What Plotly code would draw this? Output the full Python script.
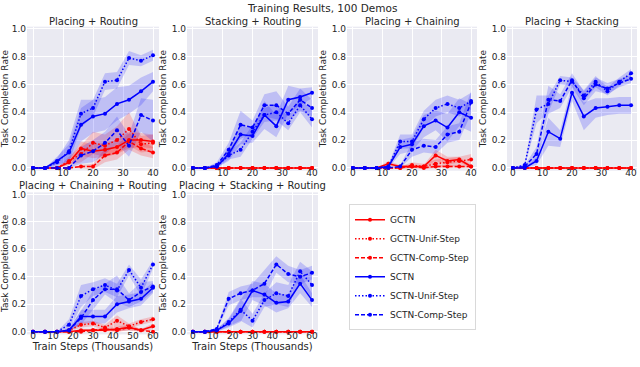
import plotly.graph_objects as go

# x values (thousands of train steps)
steps_40 = [0, 4, 8, 12, 16, 20, 24, 28, 32, 36, 40]
steps_60 = [0, 6, 12, 18, 24, 30, 36, 42, 48, 54, 60]

series = ['GCTN', 'GCTN-Unif-Step', 'GCTN-Comp-Step',
          'SCTN', 'SCTN-Unif-Step', 'SCTN-Comp-Step']

panel_titles = ['Placing + Routing', 'Stacking + Routing',
                'Placing + Chaining', 'Placing + Stacking',
                'Placing + Chaining + Routing',
                'Placing + Stacking + Routing']

# mean completion rate per panel
place_route = {
    'GCTN': [0, 0, 0, 0.04, 0.14, 0.12, 0.13, 0.15, 0.20, 0.20, 0.19],
    'GCTN-Unif-Step': [0, 0, 0, 0.05, 0.10, 0.18, 0.16, 0.20, 0.28, 0.17, 0.18],
    'GCTN-Comp-Step': [0, 0, 0, 0, 0.01, 0.01, 0.09, 0.11, 0.19, 0.14, 0.11],
    'SCTN': [0, 0, 0.05, 0.11, 0.31, 0.37, 0.39, 0.46, 0.49, 0.55, 0.62],
    'SCTN-Unif-Step': [0, 0, 0.04, 0.12, 0.39, 0.43, 0.62, 0.63, 0.79, 0.77, 0.81],
    'SCTN-Comp-Step': [0, 0, 0, 0, 0.09, 0.12, 0.18, 0.27, 0.16, 0.38, 0.34],
}
place_route_sd = {
    'GCTN': [0, 0, 0, 0.02, 0.05, 0.05, 0.05, 0.05, 0.06, 0.05, 0.05],
    'GCTN-Unif-Step': [0, 0, 0, 0.03, 0.06, 0.08, 0.08, 0.10, 0.12, 0.06, 0.06],
    'GCTN-Comp-Step': [0, 0, 0, 0, 0.01, 0.02, 0.05, 0.05, 0.06, 0.05, 0.04],
    'SCTN': [0, 0, 0.03, 0.06, 0.12, 0.12, 0.12, 0.12, 0.10, 0.10, 0.07],
    'SCTN-Unif-Step': [0, 0, 0.03, 0.08, 0.10, 0.06, 0.06, 0.06, 0.05, 0.04, 0.04],
    'SCTN-Comp-Step': [0, 0, 0, 0, 0.06, 0.08, 0.08, 0.10, 0.08, 0.12, 0.15],
}

stack_route = {
    'GCTN': [0, 0, 0, 0, 0, 0, 0, 0, 0, 0, 0],
    'GCTN-Unif-Step': [0, 0, 0, 0, 0, 0, 0, 0, 0, 0, 0],
    'GCTN-Comp-Step': [0, 0, 0, 0, 0, 0, 0, 0, 0, 0, 0],
    'SCTN': [0, 0, 0.01, 0.10, 0.24, 0.23, 0.38, 0.30, 0.49, 0.51, 0.54],
    'SCTN-Unif-Step': [0, 0, 0.01, 0.09, 0.13, 0.26, 0.38, 0.40, 0.32, 0.45, 0.35],
    'SCTN-Comp-Step': [0, 0, 0.02, 0.13, 0.31, 0.29, 0.45, 0.45, 0.39, 0.49, 0.43],
}
stack_route_sd = {
    'GCTN': [0, 0, 0, 0, 0, 0, 0, 0, 0, 0, 0],
    'GCTN-Unif-Step': [0, 0, 0, 0, 0, 0, 0, 0, 0, 0, 0],
    'GCTN-Comp-Step': [0, 0, 0, 0, 0, 0, 0, 0, 0, 0, 0],
    'SCTN': [0, 0, 0.01, 0.05, 0.07, 0.05, 0.10, 0.08, 0.10, 0.06, 0.04],
    'SCTN-Unif-Step': [0, 0, 0.01, 0.03, 0.05, 0.05, 0.05, 0.06, 0.05, 0.05, 0.06],
    'SCTN-Comp-Step': [0, 0, 0.02, 0.05, 0.10, 0.05, 0.08, 0.10, 0.05, 0.08, 0.06],
}

place_chain = {
    'GCTN': [0, 0, 0, 0.03, 0.01, 0.01, 0.01, 0.09, 0.05, 0.06, 0.01],
    'GCTN-Unif-Step': [0, 0, 0, 0, 0, 0.02, 0.01, 0.03, 0.04, 0.05, 0.06],
    'GCTN-Comp-Step': [0, 0, 0, 0, 0, 0.01, 0, 0.01, 0.01, 0.01, 0.01],
    'SCTN': [0, 0, 0, 0.01, 0.15, 0.17, 0.30, 0.34, 0.29, 0.40, 0.36],
    'SCTN-Unif-Step': [0, 0, 0, 0.01, 0.19, 0.19, 0.35, 0.43, 0.46, 0.43, 0.48],
    'SCTN-Comp-Step': [0, 0, 0, 0, 0.01, 0.13, 0.16, 0.15, 0.24, 0.26, 0.47],
}
place_chain_sd = {
    'GCTN': [0, 0, 0, 0.02, 0.01, 0.01, 0.01, 0.04, 0.03, 0.02, 0.01],
    'GCTN-Unif-Step': [0, 0, 0, 0, 0.01, 0.02, 0.02, 0.03, 0.03, 0.03, 0.04],
    'GCTN-Comp-Step': [0, 0, 0, 0, 0, 0.01, 0, 0.01, 0.01, 0.01, 0.01],
    'SCTN': [0, 0, 0, 0.01, 0.05, 0.05, 0.08, 0.07, 0.10, 0.10, 0.10],
    'SCTN-Unif-Step': [0, 0, 0, 0.01, 0.05, 0.05, 0.06, 0.06, 0.06, 0.06, 0.06],
    'SCTN-Comp-Step': [0, 0, 0, 0, 0.01, 0.05, 0.05, 0.05, 0.06, 0.06, 0.08],
}

place_stack = {
    'GCTN': [0, 0, 0, 0, 0, 0, 0, 0, 0, 0, 0],
    'GCTN-Unif-Step': [0, 0, 0, 0, 0, 0, 0, 0, 0, 0, 0],
    'GCTN-Comp-Step': [0, 0, 0, 0, 0, 0, 0, 0, 0, 0, 0],
    'SCTN': [0, 0, 0.05, 0.26, 0.21, 0.54, 0.37, 0.43, 0.44, 0.45, 0.45],
    'SCTN-Unif-Step': [0, 0.02, 0.42, 0.46, 0.63, 0.62, 0.52, 0.62, 0.55, 0.62, 0.68],
    'SCTN-Comp-Step': [0, 0.01, 0.10, 0.49, 0.48, 0.63, 0.50, 0.60, 0.57, 0.61, 0.64],
}
place_stack_sd = {
    'GCTN': [0, 0, 0, 0, 0, 0, 0, 0, 0, 0, 0],
    'GCTN-Unif-Step': [0, 0, 0, 0, 0, 0, 0, 0, 0, 0, 0],
    'GCTN-Comp-Step': [0, 0, 0, 0, 0, 0, 0, 0, 0, 0, 0],
    'SCTN': [0, 0, 0.03, 0.10, 0.06, 0.06, 0.10, 0.07, 0.06, 0.06, 0.06],
    'SCTN-Unif-Step': [0, 0.01, 0.10, 0.06, 0.03, 0.03, 0.04, 0.04, 0.03, 0.03, 0.03],
    'SCTN-Comp-Step': [0, 0.01, 0.05, 0.10, 0.05, 0.05, 0.05, 0.05, 0.04, 0.03, 0.03],
}

place_chain_route = {
    'GCTN': [0, 0, 0, 0, 0.01, 0.01, 0.01, 0.02, 0.03, 0.01, 0.04],
    'GCTN-Unif-Step': [0, 0, 0, 0.01, 0.05, 0.06, 0.03, 0.08, 0.04, 0.07, 0.09],
    'GCTN-Comp-Step': [0, 0, 0, 0, 0, 0.01, 0.02, 0.01, 0.03, 0.01, 0],
    'SCTN': [0, 0, 0, 0.01, 0.11, 0.11, 0.11, 0.20, 0.22, 0.24, 0.32],
    'SCTN-Unif-Step': [0, 0, 0, 0.05, 0.26, 0.31, 0.34, 0.30, 0.45, 0.32, 0.49],
    'SCTN-Comp-Step': [0, 0, 0, 0.01, 0.10, 0.23, 0.31, 0.31, 0.23, 0.29, 0.33],
}
place_chain_route_sd = {
    'GCTN': [0, 0, 0, 0, 0.01, 0.01, 0.01, 0.02, 0.02, 0.01, 0.02],
    'GCTN-Unif-Step': [0, 0, 0, 0.01, 0.02, 0.02, 0.02, 0.04, 0.02, 0.02, 0.02],
    'GCTN-Comp-Step': [0, 0, 0, 0, 0, 0.01, 0.01, 0.01, 0.02, 0.01, 0],
    'SCTN': [0, 0, 0, 0.01, 0.05, 0.05, 0.05, 0.06, 0.05, 0.05, 0.04],
    'SCTN-Unif-Step': [0, 0, 0, 0.04, 0.08, 0.05, 0.05, 0.05, 0.04, 0.06, 0.03],
    'SCTN-Comp-Step': [0, 0, 0, 0.01, 0.05, 0.07, 0.04, 0.10, 0.05, 0.07, 0.04],
}

place_stack_route = {
    'GCTN': [0, 0, 0, 0, 0, 0, 0, 0, 0, 0, 0],
    'GCTN-Unif-Step': [0, 0, 0, 0, 0, 0, 0, 0, 0, 0, 0],
    'GCTN-Comp-Step': [0, 0, 0, 0, 0, 0, 0, 0, 0, 0, 0],
    'SCTN': [0, 0, 0.01, 0.06, 0.15, 0.30, 0.27, 0.21, 0.22, 0.35, 0.23],
    'SCTN-Unif-Step': [0, 0, 0.01, 0.07, 0.16, 0.08, 0.23, 0.28, 0.26, 0.44, 0.34],
    'SCTN-Comp-Step': [0, 0, 0.02, 0.24, 0.28, 0.30, 0.35, 0.49, 0.42, 0.40, 0.43],
}
place_stack_route_sd = {
    'GCTN': [0, 0, 0, 0, 0, 0, 0, 0, 0, 0, 0],
    'GCTN-Unif-Step': [0, 0, 0, 0, 0, 0, 0, 0, 0, 0, 0],
    'GCTN-Comp-Step': [0, 0, 0, 0, 0, 0, 0, 0, 0, 0, 0],
    'SCTN': [0, 0, 0.01, 0.03, 0.08, 0.07, 0.08, 0.07, 0.05, 0.07, 0.05],
    'SCTN-Unif-Step': [0, 0, 0.01, 0.03, 0.08, 0.05, 0.05, 0.08, 0.08, 0.07, 0.10],
    'SCTN-Comp-Step': [0, 0, 0.01, 0.05, 0.05, 0.05, 0.10, 0.06, 0.06, 0.05, 0.05],
}

panels = [
    (steps_40, place_route, place_route_sd),
    (steps_40, stack_route, stack_route_sd),
    (steps_40, place_chain, place_chain_sd),
    (steps_40, place_stack, place_stack_sd),
    (steps_60, place_chain_route, place_chain_route_sd),
    (steps_60, place_stack_route, place_stack_route_sd),
]

W, H = 640, 367
# plot areas in pixels: left, right, top, bottom, title centre
boxes = [
    (27, 159, 24, 170, 19), (187, 318, 24, 170, 19),
    (347, 477, 24, 170, 19), (507, 637, 24, 170, 19),
    (27, 159, 192, 336, 185), (187, 318, 192, 336, 185),
]

styles = {
    'GCTN': ('#ff0000', 'solid'),
    'GCTN-Unif-Step': ('#ff0000', '1.5px,2px'),
    'GCTN-Comp-Step': ('#ff0000', '4px,2px'),
    'SCTN': ('#0000ff', 'solid'),
    'SCTN-Unif-Step': ('#0000ff', '1.5px,2px'),
    'SCTN-Comp-Step': ('#0000ff', '4px,2px'),
}
fills = {'#ff0000': 'rgba(255,0,0,0.18)', '#0000ff': 'rgba(0,0,255,0.18)'}

text_color = '#262626'
fig = go.Figure()
annotations = []

for idx, (steps, means, sds) in enumerate(panels):
    n = idx + 1
    xa = 'x' if n == 1 else 'x%d' % n
    ya = 'y' if n == 1 else 'y%d' % n
    # shaded std bands
    for name in series:
        color, _ = styles[name]
        if not any(sds[name]):
            continue
        lower = [m - s for m, s in zip(means[name], sds[name])]
        upper = [m + s for m, s in zip(means[name], sds[name])]
        fig.add_trace(go.Scatter(x=steps, y=lower, mode='lines',
                                 line=dict(width=0, color=color),
                                 showlegend=False, hoverinfo='skip',
                                 xaxis=xa, yaxis=ya))
        fig.add_trace(go.Scatter(x=steps, y=upper, mode='lines',
                                 line=dict(width=0, color=color),
                                 fill='tonexty', fillcolor=fills[color],
                                 showlegend=False, hoverinfo='skip',
                                 xaxis=xa, yaxis=ya))
    # mean lines
    for name in series:
        color, dash = styles[name]
        fig.add_trace(go.Scatter(
            x=steps, y=means[name], mode='lines+markers', name=name,
            line=dict(color=color, width=1.5, dash=dash),
            marker=dict(color=color, size=4),
            legendgroup=name, showlegend=(n == 1),
            xaxis=xa, yaxis=ya))

    left, right, top, bottom, title_y = boxes[idx]
    bottom_row = idx >= 4
    xmax = steps[-1]
    pad = xmax * 0.05
    fig.layout['xaxis' if n == 1 else 'xaxis%d' % n] = dict(
        domain=[left / W, right / W], anchor=ya,
        range=[-pad, xmax + pad], tickvals=list(range(0, xmax + 1, 10)),
        showgrid=True, gridcolor='white', gridwidth=1, zeroline=False,
        showline=False, ticks='', tickfont=dict(size=9, color=text_color),
        ticklabelstandoff=-5,
        title=dict(text='Train Steps (Thousands)' if bottom_row else '',
                   font=dict(size=10, color=text_color), standoff=1),
    )
    fig.layout['yaxis' if n == 1 else 'yaxis%d' % n] = dict(
        domain=[1 - bottom / H, 1 - top / H], anchor=xa,
        range=[-0.02, 1.015], tickvals=[0, 0.2, 0.4, 0.6, 0.8, 1.0],
        tickformat='.1f', showgrid=True, gridcolor='white', gridwidth=1,
        zeroline=False, showline=False, ticks='',
        tickfont=dict(size=9, color=text_color),
        title=dict(text='Task Completion Rate',
                   font=dict(size=9, color=text_color), standoff=3),
    )
    annotations.append(dict(
        text=panel_titles[idx], xref='paper', yref='paper',
        x=(left + right) / 2 / W, y=1 - title_y / H,
        xanchor='center', yanchor='middle', showarrow=False,
        font=dict(size=10, color=text_color)))

annotations.append(dict(
    text='Training Results, 100 Demos', xref='paper', yref='paper',
    x=322 / W, y=1 - 5 / H, xanchor='center', yanchor='middle',
    showarrow=False, font=dict(size=10.5, color=text_color)))

fig.update_layout(
    width=W, height=H,
    margin=dict(l=0, r=0, t=0, b=0),
    paper_bgcolor='white', plot_bgcolor='#eaeaf2',
    font=dict(family='DejaVu Sans', color=text_color),
    annotations=annotations,
    legend=dict(x=349 / W, y=1 - 204 / H, xanchor='left', yanchor='top',
                bgcolor='white', bordercolor='#d9d9d9', borderwidth=1,
                font=dict(size=9, color=text_color), itemwidth=30,
                tracegroupgap=0),
)

# drop the browser's default page margin so the figure sits at 0,0
fig.write_html('out.html', config={'displayModeBar': False},
               post_script="document.body.style.margin='0';")
